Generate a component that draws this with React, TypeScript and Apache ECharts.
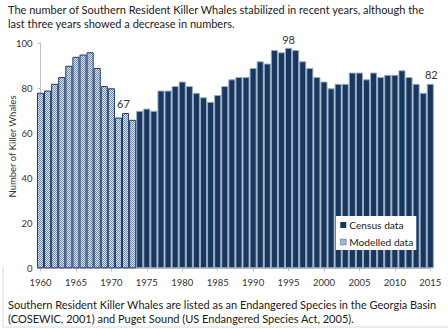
import React, { useEffect, useRef } from "react";
import * as echarts from "echarts";

const modelledYears = [1960, 1961, 1962, 1963, 1964, 1965, 1966, 1967, 1968, 1969, 1970, 1971, 1972, 1973];
const modelledValues = [78, 79, 82, 85, 90, 94, 95, 96, 89, 81, 80, 67, 69, 66];

const censusYears = [
  1974, 1975, 1976, 1977, 1978, 1979, 1980, 1981, 1982, 1983,
  1984, 1985, 1986, 1987, 1988, 1989, 1990, 1991, 1992, 1993,
  1994, 1995, 1996, 1997, 1998, 1999, 2000, 2001, 2002, 2003,
  2004, 2005, 2006, 2007, 2008, 2009, 2010, 2011, 2012, 2013,
  2014, 2015,
];
const censusValues = [
  70, 71, 70, 79, 79, 81, 83, 81, 78, 76,
  74, 77, 81, 84, 85, 85, 89, 92, 91, 97,
  96, 98, 97, 92, 89, 85, 83, 80, 82, 82,
  87, 87, 84, 87, 85, 86, 86, 88, 85, 82,
  78, 82,
];

const labelledYears = [1971, 1995, 2015];
const labelOffsets: Record<number, [number, number]> = { 1971: [5, -6], 1995: [0, 0], 2015: [1, -1] };

const yTicks = [0, 20, 40, 60, 80, 100];

const titleText =
  "The number of Southern Resident Killer Whales stabilized in recent years, although the\nlast three years showed a decrease in numbers.";
const footText =
  "Southern Resident Killer Whales are listed as an Endangered Species in the Georgia Basin\n(COSEWIC, 2001) and Puget Sound (US Endangered Species Act, 2005).";
const yAxisTitle = "Number of Killer Whales";

const FONT = "Lato";

function makePattern(): HTMLCanvasElement {
  const c = document.createElement("canvas");
  c.width = 4;
  c.height = 4;
  const ctx = c.getContext("2d")!;
  ctx.fillStyle = "#d8e0ec";
  ctx.fillRect(0, 0, 4, 4);
  ctx.fillStyle = "#6f8dbd";
  for (let y = 0; y < 4; y++) {
    for (let x = 0; x < 4; x++) {
      if ((x + y) % 2 === 0) ctx.fillRect(x, y, 1, 1);
    }
  }
  return c;
}

function buildData(years: number[], values: number[]) {
  return years.map((y, i) => {
    if (labelledYears.includes(y)) {
      return {
        value: [y, values[i]],
        label: {
          show: true,
          position: "top",
          distance: 3,
          offset: labelOffsets[y],
          fontSize: 11,
          color: "#333",
          fontFamily: FONT,
        },
      };
    }
    return { value: [y, values[i]] };
  });
}

export default function App() {
  const ref = useRef<HTMLDivElement>(null);
  useEffect(() => {
    if (!ref.current) return;
    const chart = echarts.init(ref.current, null, { renderer: "svg" });
    const pattern = makePattern();
    const patternFill = { image: pattern, repeat: "repeat" };
    chart.setOption({
      animation: false,
      backgroundColor: "#ffffff",
      textStyle: { fontFamily: FONT },
      grid: { left: 40.5, right: 17.7, top: 43.3, bottom: 60.7, containLabel: false },
      legend: {
        data: [
          { name: "Census data", itemStyle: { color: "#17375e", borderWidth: 0 } },
          { name: "Modelled data", itemStyle: { color: patternFill, borderColor: "#4a6a9c", borderWidth: 0.5 } },
        ],
        orient: "vertical",
        left: 336,
        top: 216,
        backgroundColor: "#ffffff",
        padding: [3, 3, 2, 4],
        itemWidth: 6,
        itemHeight: 6,
        itemGap: 5,
        icon: "rect",
        textStyle: { fontSize: 10.2, color: "#222", fontFamily: FONT, lineHeight: 12, padding: [0, 0, 0, -2] },
      },
      xAxis: {
        type: "value",
        min: 1960,
        max: 2015,
        interval: 5,
        axisLine: { show: true, lineStyle: { color: "#bfbfbf", width: 1 } },
        axisTick: { show: true, length: 3, lineStyle: { color: "#bfbfbf" } },
        axisLabel: {
          fontSize: 9.5,
          color: "#333",
          margin: 9,
          fontFamily: FONT,
          formatter: (v: number) => String(v),
        },
        splitLine: { show: false },
      },
      yAxis: {
        type: "value",
        min: yTicks[0],
        max: yTicks[yTicks.length - 1],
        interval: 20,
        axisLine: { show: true, lineStyle: { color: "#bfbfbf", width: 1 } },
        axisTick: { show: true, length: 3, lineStyle: { color: "#bfbfbf" } },
        axisLabel: { fontSize: 9.5, color: "#333", margin: 8, fontFamily: FONT },
        splitLine: { show: false },
      },
      series: [
        {
          name: "Census data",
          type: "bar",
          stack: "all",
          barWidth: 7.09,
          clip: true,
          itemStyle: { color: "#17375e", borderColor: "#9aabc4", borderWidth: 1 },
          data: buildData(censusYears, censusValues),
        },
        {
          name: "Modelled data",
          type: "bar",
          stack: "all",
          barWidth: 7.09,
          clip: true,
          itemStyle: {
            color: patternFill,
            borderColor: "#1f3a68",
            borderWidth: 1,
          },
          data: buildData(modelledYears, modelledValues),
        },
      ],
      graphic: [
        {
          type: "text",
          left: 8,
          top: 2,
          style: { text: titleText, fontSize: 11, lineHeight: 14, fill: "#1a1a1a", fontFamily: FONT },
        },
        {
          type: "text",
          left: 8,
          top: 297,
          style: { text: footText, fontSize: 11, lineHeight: 14, fill: "#1a1a1a", fontFamily: FONT },
        },
        {
          type: "text",
          x: 12.5,
          y: 146.5,
          rotation: Math.PI / 2,
          style: {
            text: yAxisTitle,
            fontSize: 9.5,
            fill: "#333",
            fontFamily: FONT,
            align: "center",
            verticalAlign: "middle",
          },
        },
        {
          type: "polyline",
          shape: { points: [[3, 266], [3, 327], [448, 327]] },
          style: { stroke: "#d9d9d9", lineWidth: 1, fill: "none" },
        },
      ],
    });
    return () => chart.dispose();
  }, []);
  return (
    <div
      ref={ref}
      style={{ position: "fixed", left: 0, top: 0, width: 448, height: 329 }}
    />
  );
}
